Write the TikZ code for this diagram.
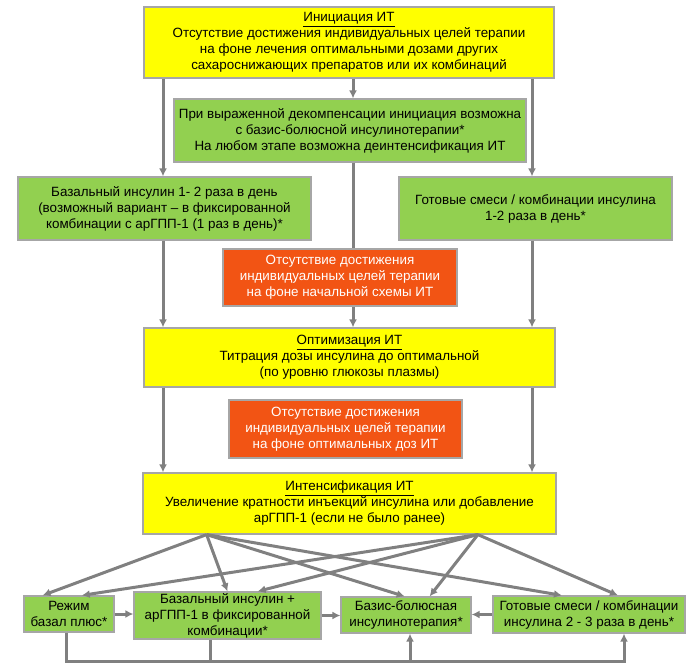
\documentclass[tikz,border=0pt]{standalone}
\usepackage{fontspec}
\setmainfont{Liberation Sans}
\usetikzlibrary{arrows.meta,calc}

\definecolor{ityellow}{RGB}{255,255,0}
\definecolor{itgreen}{RGB}{146,208,80}
\definecolor{itorange}{RGB}{242,84,20}
\definecolor{boxgray}{RGB}{166,166,166}
\definecolor{arrowgray}{RGB}{128,128,128}

\begin{document}
\begin{tikzpicture}[x=1pt,y=-1pt,>={Latex[length=8pt,width=8pt]},
        box/.style={draw=boxgray,line width=1.2pt,align=center,inner sep=0pt,
                font=\fontsize{13.4}{16}\selectfont},
        yellowbox/.style={box,fill=ityellow},
        greenbox/.style={box,fill=itgreen},
        orangebox/.style={box,fill=itorange,text=white},
        flow/.style={->,draw=arrowgray,line width=3pt},
        bus/.style={draw=arrowgray,line width=3pt}]
        \useasboundingbox (0,0) rectangle (694,666);

        % the columns of the vertical arrows
        \coordinate (colL) at (163,0);
        \coordinate (colC) at (353,0);
        \coordinate (colR) at (532,0);

        % the boxes of the start
        \node[yellowbox,minimum width=410pt,minimum height=71pt] (init) at (349,42.5)
                {\underline{Инициация ИТ}\\
                 Отсутствие достижения индивидуальных целей терапии\\
                 на фоне лечения оптимальными дозами других\\
                 сахароснижающих препаратов или их комбинаций};
        \node[greenbox,minimum width=352pt,minimum height=63pt] (decomp) at (350,130.5)
                {При выраженной декомпенсации инициация возможна\\
                 с базис-болюсной инсулинотерапии*\\
                 На любом этапе возможна деинтенсификация ИТ};
        \node[greenbox,minimum width=293pt,minimum height=63pt] (basal) at (164.5,208.5)
                {Базальный инсулин 1- 2 раза в день\\
                 (возможный вариант – в фиксированной\\
                 комбинации с арГПП-1 (1 раз в день)*};
        \node[greenbox,minimum width=273pt,minimum height=63pt] (mix) at (535.5,208.5)
                {Готовые смеси / комбинации инсулина\\
                 1-2 раза в день*};
        \node[yellowbox,minimum width=411pt,minimum height=59pt] (optim) at (349.5,357.5)
                {\underline{Оптимизация ИТ}\\
                 Титрация дозы инсулина до оптимальной\\
                 (по уровню глюкозы плазмы)};

        % arrows of the start
        \draw[flow] (init.south -| colL) -- (basal.north -| colL);
        \draw[flow] (init.south -| colC) -- (decomp.north -| colC);
        \draw[flow] (init.south -| colR) -- (mix.north -| colR);
        \draw[flow] (decomp.south -| colC) -- (optim.north -| colC);
        \draw[flow] (basal.south -| colL) -- (optim.north -| colL);
        \draw[flow] (mix.south -| colR) -- (optim.north -| colR);

        % the orange box lies on the middle arrow
        \node[orangebox,minimum width=234pt,minimum height=57pt] (failA) at (340,277.5)
                {Отсутствие достижения\\
                 индивидуальных целей терапии\\
                 на фоне начальной схемы ИТ};

        \node[orangebox,minimum width=233pt,minimum height=58pt] (failB) at (345.5,429)
                {Отсутствие достижения\\
                 индивидуальных целей терапии\\
                 на фоне оптимальных доз ИТ};
        \node[yellowbox,minimum width=413pt,minimum height=61pt] (intens) at (349.5,503.5)
                {\underline{Интенсификация ИТ}\\
                 Увеличение кратности инъекций инсулина или добавление\\
                 арГПП-1 (если не было ранее)};

        \draw[flow] (optim.south -| colL) -- (intens.north -| colL);
        \draw[flow] (optim.south -| colR) -- (intens.north -| colR);

        % the four schemes of intensification
        \node[greenbox,minimum width=90pt,minimum height=36pt] (regime) at (69,614)
                {Режим\\ базал плюс*};
        \node[greenbox,minimum width=187pt,minimum height=47pt] (basglp) at (227.5,615.5)
                {Базальный инсулин +\\
                 арГПП-1 в фиксированной\\
                 комбинации*};
        \node[greenbox,minimum width=130pt,minimum height=36pt] (basbol) at (406,615)
                {Базис-болюсная\\ инсулинотерапия*};
        \node[greenbox,minimum width=192pt,minimum height=37pt] (premix) at (589,614.5)
                {Готовые смеси / комбинации\\
                 инсулина 2 - 3 раза в день*};

        % the fan of arrows from the intensification
        \coordinate (fanL) at ($(intens.south west)!0.155!(intens.south east)$);
        \coordinate (fanR) at ($(intens.south west)!0.81!(intens.south east)$);
        \foreach \dst/\a/\b in {regime/0.21/0.64, basglp/0.5/0.66,
                basbol/0.49/0.68, premix/0.36/0.65} {
                \draw[flow] (fanL) -- ($(\dst.north west)!\a!(\dst.north east)$);
                \draw[flow] (fanR) -- ($(\dst.north west)!\b!(\dst.north east)$);
        }

        % arrows between the schemes
        \draw[flow] (regime.east) -- (regime.east -| basglp.west);
        \draw[flow] (basglp.east) -- (basglp.east -| basbol.west);
        \draw[flow] (premix.west) -- (premix.west -| basbol.east);

        % the line along the bottom
        \coordinate (busA) at (66,661);
        \coordinate (busB) at (210,661);
        \coordinate (busC) at (410,661);
        \coordinate (busD) at (624,661);
        \draw[flow] (regime.south -| busA) -- (busA) -- (busD) -- (premix.south -| busD);
        \draw[bus] (basglp.south -| busB) -- (busB);
        \draw[flow] (busC) -- (basbol.south -| busC);
\end{tikzpicture}
\end{document}
